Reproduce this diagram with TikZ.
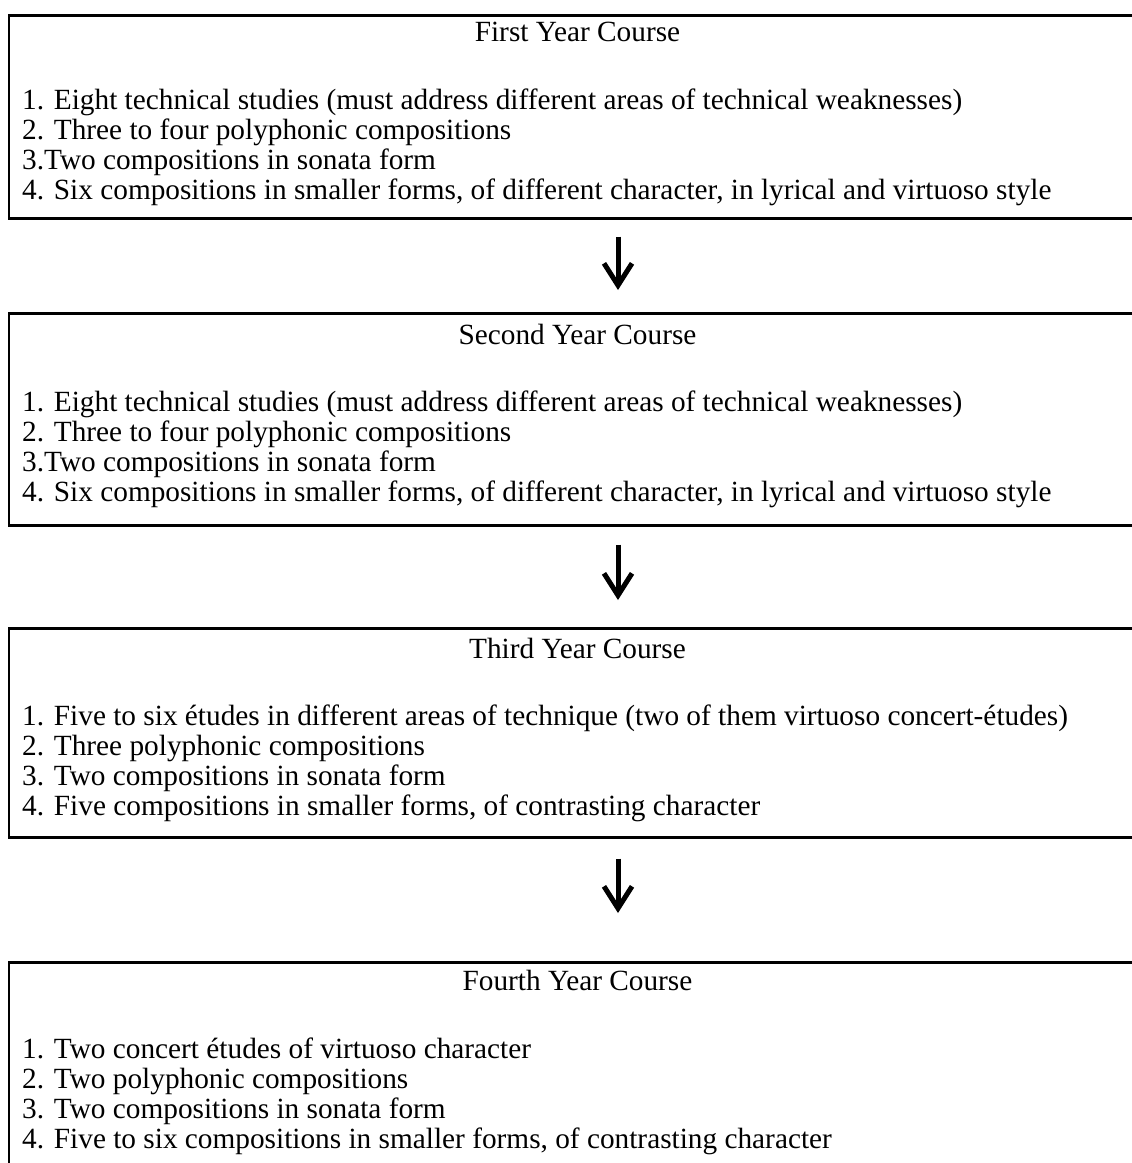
\documentclass[tikz,border=0pt]{standalone}
\usepackage{fontspec}
\setmainfont{Liberation Serif}
\usetikzlibrary{arrows.meta}
\begin{document}
\begin{tikzpicture}[x=1pt,y=-1pt,
  box/.style={draw=black, line width=2.6pt, rectangle, anchor=north west, minimum width=1140pt, inner sep=0pt},
  title/.style={anchor=base, inner sep=0pt, font=\fontsize{29.3}{30}\selectfont},
  item/.style={anchor=base west, inner sep=0pt, font=\fontsize{29.3}{30}\selectfont},
  flow/.style={line width=5pt, -{Straight Barb[length=22pt,width=28pt,line width=5pt]}}]
\useasboundingbox (0,0) rectangle (1132,1163);
\clip (0,0) rectangle (1132,1163);
% boxes
\node[box, minimum height=203pt] (b1) at (7.5,14) {};
\node[box, minimum height=212pt] (b2) at (7.5,312) {};
\node[box, minimum height=209pt] (b3) at (7.5,627) {};
\node[box, minimum height=260pt] (b4) at (7.5,961) {};
% box 1
\node[title] (h1) at (577.5,41) {First Year Course};
\node[item] (l11) at (22,109) {1. Eight technical studies (must address different areas of technical weaknesses)};
\node[item] (l12) at (22,139) {2. Three to four polyphonic compositions};
\node[item] (l13) at (22,169) {3.Two compositions in sonata form};
\node[item] (l14) at (22,199) {4. Six compositions in smaller forms, of different character, in lyrical and virtuoso style};
% box 2
\node[title] (h2) at (577.5,344) {Second Year Course};
\node[item] (l21) at (22,411) {1. Eight technical studies (must address different areas of technical weaknesses)};
\node[item] (l22) at (22,441) {2. Three to four polyphonic compositions};
\node[item] (l23) at (22,471) {3.Two compositions in sonata form};
\node[item] (l24) at (22,501) {4. Six compositions in smaller forms, of different character, in lyrical and virtuoso style};
% box 3
\node[title] (h3) at (577.5,658) {Third Year Course};
\node[item] (l31) at (22,725) {1. Five to six études in different areas of technique (two of them virtuoso concert-études)};
\node[item] (l32) at (22,755) {2. Three polyphonic compositions};
\node[item] (l33) at (22,785) {3. Two compositions in sonata form};
\node[item] (l34) at (22,815) {4. Five compositions in smaller forms, of contrasting character};
% box 4
\node[title] (h4) at (577.5,990) {Fourth Year Course};
\node[item] (l41) at (22,1058) {1. Two concert études of virtuoso character};
\node[item] (l42) at (22,1088) {2. Two polyphonic compositions};
\node[item] (l43) at (22,1118) {3. Two compositions in sonata form};
\node[item] (l44) at (22,1148) {4. Five to six compositions in smaller forms, of contrasting character};
% arrows
\coordinate (ax) at (618,0);
\draw[flow, shorten <=17pt, shorten >=22pt] (b1.south -| ax) -- (b2.north -| ax);
\draw[flow, shorten <=18pt, shorten >=27pt] (b2.south -| ax) -- (b3.north -| ax);
\draw[flow, shorten <=20pt, shorten >=48pt] (b3.south -| ax) -- (b4.north -| ax);
\end{tikzpicture}
\end{document}
